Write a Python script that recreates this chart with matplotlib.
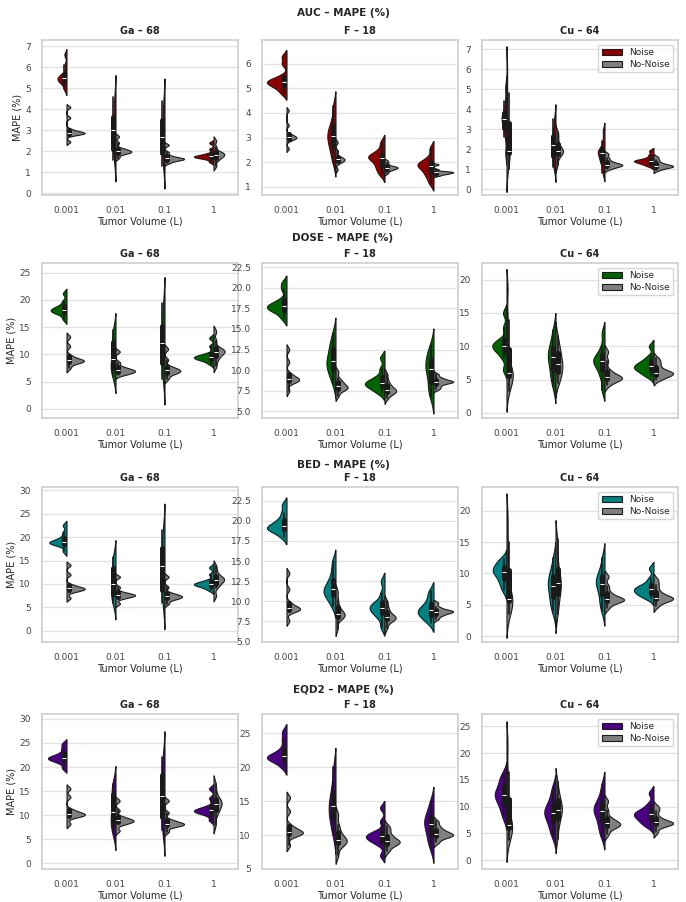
import numpy as np
import pandas as pd
import matplotlib
matplotlib.use("Agg")
import matplotlib.pyplot as plt
from matplotlib.ticker import MultipleLocator
import seaborn as sns

volumes = ['0.001', '0.01', '0.1', '1']
isotopes = ['Ga – 68', 'F – 18', 'Cu – 64']
metrics = ['AUC', 'DOSE', 'BED', 'EQD2']
metric_colors = {'AUC': '#8b0000', 'DOSE': '#006400', 'BED': '#008080', 'EQD2': '#4b0082'}

# AUC samples, one list per tumor volume
auc_ga68_noise = [[4.95, 5.2, 5.3, 5.4, 5.45, 5.5, 5.6, 5.7, 6.1, 6.6],
                  [1.6, 1.9, 2.0, 2.5, 2.9, 3.1, 3.5, 3.7, 4.2, 4.6],
                  [1.3, 1.6, 1.8, 2.2, 2.6, 2.8, 3.2, 3.6, 4.0, 4.4],
                  [1.5, 1.65, 1.7, 1.73, 1.75, 1.78, 1.82, 1.9, 2.1, 2.4]]
auc_ga68_clean = [[2.45, 2.78, 2.83, 2.86, 2.88, 2.9, 2.95, 3.05, 3.6, 4.1],
                  [1.7, 1.88, 1.92, 1.96, 2.0, 2.02, 2.08, 2.15, 2.4, 2.7],
                  [1.45, 1.55, 1.6, 1.62, 1.65, 1.68, 1.7, 1.8, 1.95, 2.3],
                  [1.3, 1.55, 1.68, 1.75, 1.82, 1.87, 1.92, 1.98, 2.2, 2.5]]
auc_f18_noise = [[4.8, 5.0, 5.1, 5.2, 5.25, 5.3, 5.35, 5.5, 6.0, 6.3],
                 [2.0, 2.35, 2.6, 2.8, 3.0, 3.1, 3.3, 3.45, 3.8, 4.3],
                 [1.5, 1.7, 1.85, 2.0, 2.15, 2.2, 2.25, 2.3, 2.5, 2.8],
                 [1.15, 1.4, 1.55, 1.7, 1.82, 1.88, 1.95, 2.0, 2.2, 2.55]]
auc_f18_clean = [[2.55, 2.88, 2.94, 2.98, 3.0, 3.03, 3.08, 3.14, 3.5, 4.1],
                 [1.7, 1.95, 2.02, 2.06, 2.1, 2.13, 2.17, 2.23, 2.45, 2.8],
                 [1.55, 1.65, 1.7, 1.75, 1.75, 1.8, 1.8, 1.85, 1.95, 2.05],
                 [1.45, 1.5, 1.53, 1.55, 1.57, 1.6, 1.6, 1.62, 1.7, 1.9]]
auc_cu64_noise = [[1.8, 2.6, 3.0, 3.25, 3.45, 3.55, 3.7, 3.85, 4.4, 5.1],
                  [1.1, 1.4, 1.6, 1.9, 2.15, 2.25, 2.5, 2.7, 3.0, 3.5],
                  [0.8, 1.2, 1.4, 1.55, 1.75, 1.85, 1.92, 2.0, 2.4, 2.9],
                  [1.15, 1.25, 1.3, 1.38, 1.4, 1.42, 1.45, 1.55, 1.7, 1.9]]
auc_cu64_clean = [[1.0, 1.55, 1.78, 1.84, 1.87, 1.9, 2.4, 3.6, 4.8, 6.0],
                  [1.2, 1.55, 1.75, 1.85, 1.9, 1.95, 2.1, 2.3, 2.6, 2.85],
                  [1.0, 1.1, 1.15, 1.2, 1.2, 1.25, 1.3, 1.4, 1.55, 1.75],
                  [0.95, 1.05, 1.1, 1.13, 1.15, 1.18, 1.24, 1.32, 1.45, 1.6]]

# DOSE samples
dose_ga68_noise = [[16.5, 17.4, 17.7, 17.95, 18.15, 18.3, 18.6, 19.0, 19.8, 21.2],
                   [6.0, 6.8, 7.3, 8.0, 8.8, 9.5, 11.0, 12.8, 13.8, 14.5],
                   [5.5, 7.0, 8.0, 9.8, 11.5, 12.5, 14.2, 15.5, 17.5, 19.5],
                   [8.3, 8.9, 9.1, 9.3, 9.5, 9.6, 9.8, 10.2, 11.5, 13.0]]
dose_ga68_clean = [[7.5, 8.3, 8.6, 8.75, 8.85, 8.95, 9.25, 9.8, 11.5, 13.2],
                   [6.2, 6.5, 6.7, 6.9, 7.0, 7.1, 7.4, 7.7, 8.5, 10.5],
                   [5.5, 6.3, 6.6, 6.85, 7.0, 7.15, 7.4, 7.8, 9.0, 11.0],
                   [7.8, 8.9, 9.6, 10.1, 10.4, 10.6, 10.9, 11.2, 12.5, 14.2]]
dose_f18_noise = [[16.3, 17.0, 17.3, 17.5, 17.7, 17.9, 18.1, 18.6, 19.8, 20.6],
                  [8.5, 9.5, 10.0, 10.6, 11.0, 11.3, 12.0, 12.8, 13.3, 14.5],
                  [7.2, 7.7, 8.0, 8.2, 8.4, 8.6, 8.8, 9.3, 10.2, 11.5],
                  [6.8, 7.6, 8.3, 9.4, 10.0, 10.4, 11.0, 11.4, 12.2, 13.0]]
dose_f18_clean = [[7.5, 8.45, 8.65, 8.8, 8.9, 9.0, 9.25, 9.6, 11.0, 12.5],
                  [6.9, 7.5, 7.7, 7.85, 7.95, 8.1, 8.4, 8.6, 9.0, 9.8],
                  [6.6, 7.1, 7.3, 7.45, 7.55, 7.7, 8.0, 8.3, 8.8, 9.5],
                  [7.7, 8.0, 8.3, 8.5, 8.6, 8.6, 8.7, 8.9, 9.1, 9.5]]
dose_cu64_noise = [[6.5, 8.3, 9.1, 9.6, 9.9, 10.2, 10.6, 11.0, 12.8, 15.0],
                   [4.0, 5.3, 6.2, 7.2, 8.2, 8.5, 9.2, 9.9, 11.0, 12.5],
                   [3.5, 5.3, 6.3, 7.1, 7.6, 7.9, 8.3, 8.8, 10.0, 12.0],
                   [5.5, 6.0, 6.4, 6.7, 6.9, 7.1, 7.5, 7.8, 8.5, 10.0]]
dose_cu64_clean = [[3.3, 4.6, 5.5, 5.7, 5.85, 6.0, 7.0, 10.5, 14.0, 18.5],
                   [4.5, 5.3, 6.0, 6.8, 7.2, 7.5, 8.5, 9.2, 10.0, 11.5],
                   [4.2, 4.85, 5.05, 5.2, 5.35, 5.5, 5.9, 6.5, 7.8, 9.2],
                   [5.0, 5.4, 5.7, 5.9, 6.0, 6.1, 6.4, 7.0, 7.6, 8.2]]

# BED samples
bed_ga68_noise = [[17.0, 18.2, 18.55, 18.75, 18.9, 19.05, 19.4, 20.0, 21.0, 22.5],
                  [6.0, 6.8, 7.4, 8.8, 9.6, 10.2, 12.0, 13.8, 15.0, 15.8],
                  [6.0, 7.0, 8.0, 10.5, 13.0, 14.5, 16.5, 18.0, 20.0, 21.5],
                  [8.7, 9.3, 9.6, 9.8, 10.0, 10.1, 10.4, 10.8, 12.0, 13.5]]
bed_ga68_clean = [[7.0, 8.3, 8.65, 8.85, 9.0, 9.1, 9.35, 9.8, 12.0, 14.0],
                  [5.8, 6.9, 7.25, 7.45, 7.6, 7.7, 7.9, 8.3, 9.3, 11.5],
                  [5.8, 6.6, 6.95, 7.15, 7.3, 7.45, 7.7, 8.1, 9.3, 11.5],
                  [7.5, 9.2, 9.9, 10.4, 10.8, 11.0, 11.3, 11.7, 12.6, 13.8]]
bed_f18_noise = [[18.0, 18.6, 18.9, 19.05, 19.2, 19.4, 19.8, 20.2, 21.0, 22.0],
                 [9.4, 10.3, 10.7, 11.1, 11.4, 11.7, 12.2, 12.8, 13.8, 15.0],
                 [6.8, 7.9, 8.45, 8.8, 9.1, 9.35, 9.65, 10.0, 11.0, 12.5],
                 [7.3, 7.9, 8.2, 8.5, 8.8, 9.0, 9.3, 9.8, 10.5, 11.3]]
bed_f18_clean = [[7.6, 8.7, 8.9, 9.0, 9.1, 9.2, 9.45, 9.85, 11.5, 13.5],
                 [6.6, 7.7, 8.05, 8.25, 8.35, 8.55, 8.9, 9.4, 10.2, 11.2],
                 [6.7, 7.4, 7.7, 7.9, 8.0, 8.1, 8.4, 8.8, 9.3, 10.0],
                 [7.8, 8.2, 8.4, 8.6, 8.7, 8.75, 8.85, 9.0, 9.3, 9.8]]
bed_cu64_noise = [[7.3, 8.3, 9.0, 9.7, 10.2, 10.4, 10.8, 11.2, 11.8, 12.3],
                  [4.0, 5.0, 6.0, 7.0, 7.8, 8.3, 9.2, 9.7, 10.8, 12.5],
                  [4.0, 5.3, 6.2, 7.5, 8.2, 8.5, 9.2, 9.7, 10.8, 12.5],
                  [6.0, 6.5, 6.8, 7.1, 7.4, 7.6, 7.9, 8.3, 9.2, 10.8]]
bed_cu64_clean = [[3.5, 4.6, 5.5, 5.7, 5.85, 6.0, 7.5, 11.5, 15.0, 19.0],
                  [3.5, 5.2, 6.4, 7.6, 8.3, 8.6, 9.6, 11.0, 13.0, 15.5],
                  [4.5, 5.35, 5.6, 5.75, 5.85, 6.0, 6.4, 7.0, 8.0, 9.5],
                  [4.8, 5.55, 5.8, 5.95, 6.05, 6.2, 6.6, 7.2, 8.1, 9.0]]

# EQD2 samples
eqd2_ga68_noise = [[19.8, 20.9, 21.35, 21.6, 21.85, 22.0, 22.3, 22.8, 23.8, 24.8],
                   [6.5, 7.2, 8.0, 9.5, 10.3, 11.0, 13.2, 14.8, 15.8, 16.5],
                   [7.0, 8.0, 9.0, 11.5, 13.5, 14.5, 16.8, 18.8, 20.5, 22.0],
                   [9.0, 10.1, 10.5, 10.75, 10.95, 11.1, 11.4, 11.9, 13.5, 15.5]]
eqd2_ga68_clean = [[8.2, 9.6, 9.9, 10.05, 10.2, 10.35, 10.7, 11.2, 13.8, 15.5],
                   [6.8, 8.1, 8.45, 8.7, 8.85, 9.0, 9.3, 9.7, 11.0, 13.0],
                   [6.6, 7.6, 7.9, 8.05, 8.2, 8.35, 8.65, 9.1, 10.5, 13.0],
                   [8.0, 10.0, 10.9, 11.6, 12.2, 12.6, 13.0, 13.5, 14.8, 16.5]]
eqd2_f18_noise = [[20.0, 20.8, 21.1, 21.3, 21.5, 21.7, 22.0, 22.8, 24.0, 25.2],
                  [10.0, 11.5, 12.3, 13.3, 14.0, 14.5, 15.5, 16.5, 18.0, 20.0],
                  [7.0, 8.6, 9.1, 9.45, 9.7, 9.9, 10.2, 10.6, 12.0, 14.0],
                  [8.0, 9.2, 9.8, 10.8, 11.4, 11.8, 12.4, 12.9, 13.8, 15.0]]
eqd2_f18_clean = [[8.5, 9.8, 10.1, 10.3, 10.4, 10.55, 10.9, 11.4, 13.5, 15.5],
                  [7.0, 8.3, 8.75, 9.0, 9.2, 9.45, 9.9, 10.6, 11.5, 13.0],
                  [7.6, 8.3, 8.7, 8.9, 9.0, 9.2, 9.6, 10.0, 10.7, 11.3],
                  [8.9, 9.5, 9.8, 9.95, 10.05, 10.2, 10.5, 10.8, 11.3, 12.0]]
eqd2_cu64_noise = [[8.0, 9.5, 10.5, 11.5, 12.0, 12.4, 13.0, 14.0, 15.0, 16.0],
                   [4.5, 6.0, 7.0, 8.0, 8.7, 9.0, 9.8, 10.5, 11.8, 13.5],
                   [4.5, 6.0, 7.0, 8.3, 9.1, 9.4, 10.0, 10.8, 12.0, 14.0],
                   [6.3, 7.0, 7.5, 8.0, 8.4, 8.7, 9.0, 9.5, 10.5, 12.5]]
eqd2_cu64_clean = [[3.8, 5.0, 6.0, 6.25, 6.45, 6.7, 8.5, 12.5, 16.5, 21.8],
                   [4.0, 6.2, 7.4, 8.6, 9.3, 9.6, 10.4, 11.5, 12.5, 14.5],
                   [4.8, 5.9, 6.3, 6.55, 6.75, 7.0, 7.4, 8.0, 9.3, 11.0],
                   [5.2, 6.3, 6.6, 6.8, 6.95, 7.1, 7.4, 8.1, 9.2, 10.0]]

panels = {
    'AUC': [(auc_ga68_noise, auc_ga68_clean), (auc_f18_noise, auc_f18_clean), (auc_cu64_noise, auc_cu64_clean)],
    'DOSE': [(dose_ga68_noise, dose_ga68_clean), (dose_f18_noise, dose_f18_clean), (dose_cu64_noise, dose_cu64_clean)],
    'BED': [(bed_ga68_noise, bed_ga68_clean), (bed_f18_noise, bed_f18_clean), (bed_cu64_noise, bed_cu64_clean)],
    'EQD2': [(eqd2_ga68_noise, eqd2_ga68_clean), (eqd2_f18_noise, eqd2_f18_clean), (eqd2_cu64_noise, eqd2_cu64_clean)],
}

# y ranges and tick steps
y_limits = {
    'AUC': [(-0.08, 7.3), (0.66, 6.97), (-0.3, 7.46)],
    'DOSE': [(-1.7, 26.8), (4.2, 23.0), (-0.75, 22.5)],
    'BED': [(-2.4, 30.7), (4.95, 24.2), (-0.95, 23.8)],
    'EQD2': [(-1.16, 31.0), (5.0, 27.8), (-1.67, 27.3)],
}
y_steps = {'AUC': [1, 1, 1], 'DOSE': [5, 2.5, 5], 'BED': [5, 2.5, 5], 'EQD2': [5, 5, 5]}


def to_frame(noise, clean):
    rows = []
    for vol, vals in zip(volumes, noise):
        rows += [(vol, 'Noise', v) for v in vals]
    for vol, vals in zip(volumes, clean):
        rows += [(vol, 'No-Noise', v) for v in vals]
    return pd.DataFrame(rows, columns=['volume', 'cond', 'mape'])


# silverman's robust rule (uses the IQR, so long tails don't blur the peak)
def robust_bw(kde):
    x = kde.dataset.ravel()
    sd = x.std(ddof=1)
    q75, q25 = np.percentile(x, [75, 25])
    s = min(sd, (q75 - q25) / 1.34)
    return 0.9 * s * len(x) ** -0.2 / sd


sns.set_theme(style="whitegrid")
plt.rcParams['font.family'] = ['DejaVu Sans']
plt.rcParams['xtick.labelsize'] = 6.5
plt.rcParams['ytick.labelsize'] = 6.5
plt.rcParams['axes.labelsize'] = 7
plt.rcParams['axes.edgecolor'] = '#d0d0d0'
plt.rcParams['grid.color'] = '#e3e3e3'

W, H = 686, 902
fig = plt.figure(figsize=(W / 100, H / 100), dpi=100)

col_left = [42, 262, 482]
row_top = [40, 263, 487, 714]
ax_w, ax_h = 196, 155
row_title_y = [13, 238, 465, 690]

for r, metric in enumerate(metrics):
    fig.text(0.5, 1 - row_title_y[r] / H, f'{metric} – MAPE (%)', ha='center', va='center',
             fontsize=7.5, fontweight='bold', color='#262626')
    for c, iso in enumerate(isotopes):
        ax = fig.add_axes([col_left[c] / W, 1 - (row_top[r] + ax_h) / H, ax_w / W, ax_h / H])
        noise, clean = panels[metric][c]
        df = to_frame(noise, clean)
        sns.violinplot(data=df, x='volume', y='mape', hue='cond', split=True, inner='box',
                       order=volumes, hue_order=['Noise', 'No-Noise'],
                       palette={'Noise': metric_colors[metric], 'No-Noise': '#808080'},
                       linewidth=0.8, linecolor='#1a1a1a', bw_method=robust_bw, bw_adjust=0.9,
                       cut=2, saturation=1, width=0.8, legend=(c == 2), ax=ax)
        ax.set_ylim(*y_limits[metric][c])
        ax.yaxis.set_major_locator(MultipleLocator(y_steps[metric][c]))
        ax.set_title(iso, fontsize=7, fontweight='bold', color='#262626', pad=4)
        ax.set_xlabel('Tumor Volume (L)', labelpad=1)
        ax.set_ylabel('MAPE (%)' if c == 0 else '', labelpad=2)
        ax.tick_params(axis='both', pad=2, colors='#444444')
        for sp in ax.spines.values():
            sp.set_color('#d0d0d0')
        if c == 2:
            sns.move_legend(ax, 'upper right', title=None, fontsize=6.5, frameon=True,
                            handlelength=2.2, borderpad=0.4, labelspacing=0.3)

fig.savefig('out.png', dpi=100)
